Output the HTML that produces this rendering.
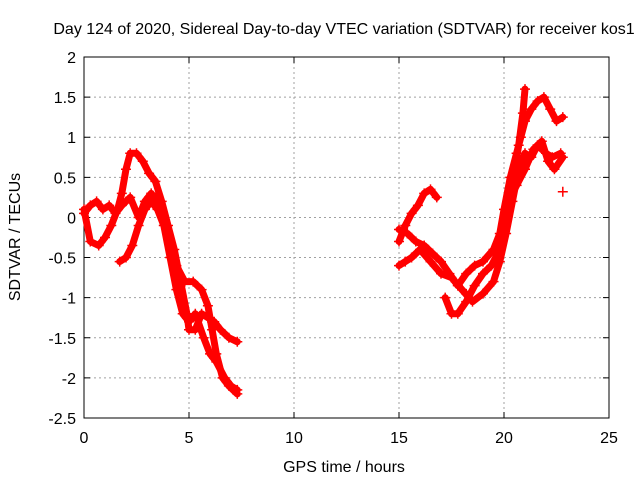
<!DOCTYPE html>
<html><head><meta charset="utf-8"><style>
body{margin:0;background:#fff}
svg{display:block;font-family:"Liberation Sans",sans-serif;font-size:16px}
</style></head><body>
<svg id="chart" width="640" height="480" viewBox="0 0 640 480" xmlns="http://www.w3.org/2000/svg">
<rect width="640" height="480" fill="#fff"/>
<g id="grid"></g>
<g id="axes"></g>
<g id="series"></g>
<text x="344" y="34" text-anchor="middle">Day 124 of 2020, Sidereal Day-to-day VTEC variation (SDTVAR) for receiver kos1</text>
<text x="344" y="472" text-anchor="middle">GPS time / hours</text>
<text transform="translate(20,237) rotate(-90)" text-anchor="middle">SDTVAR / TECUs</text>
</svg>
<script>
const xTicks=[0,5,10,15,20,25];
const yTicks=[2,1.5,1,0.5,0,-0.5,-1,-1.5,-2,-2.5];
const yTickLabels=["2","1.5","1","0.5","0","-0.5","-1","-1.5","-2","-2.5"];
const track1=[[0,0.1],[0.3,-0.3],[0.7,-0.35],[1.0,-0.25],[1.3,-0.1],[1.6,0.1],[1.8,0.3],[2.0,0.6],[2.2,0.8],[2.5,0.8],[2.8,0.7],[3.1,0.55],[3.4,0.45],[3.7,0.2],[4.0,-0.1],[4.3,-0.4],[4.6,-0.8],[4.9,-1.2],[5.0,-1.4],[5.3,-1.4],[5.6,-1.2],[5.9,-1.25],[6.2,-1.3],[6.5,-1.4],[6.9,-1.5],[7.3,-1.55]];
const track2=[[0,0.05],[0.3,0.15],[0.6,0.2],[0.9,0.1],[1.2,0.15],[1.5,0.05],[1.8,0.15],[2.2,0.25],[2.6,0.0],[2.9,0.2],[3.2,0.3],[3.5,0.2],[3.8,0.0],[4.1,-0.3],[4.4,-0.6],[4.8,-0.8],[5.2,-0.8],[5.6,-0.9],[5.9,-1.1],[6.1,-1.4],[6.3,-1.7],[6.6,-2.0],[6.9,-2.1],[7.3,-2.2]];
const track3=[[1.7,-0.55],[2.0,-0.5],[2.3,-0.35],[2.6,-0.1],[2.9,0.1],[3.2,0.2],[3.5,0.1],[3.8,-0.1],[4.1,-0.5],[4.4,-0.9],[4.7,-1.2],[5.0,-1.3],[5.3,-1.2],[5.7,-1.5],[6.0,-1.7],[6.3,-1.8],[6.7,-2.0],[7.0,-2.1],[7.3,-2.15]];
const track4=[[15,-0.3],[15.3,-0.1],[15.6,0.05],[15.9,0.15],[16.2,0.3],[16.5,0.35],[16.8,0.25]];
const track5=[[15,-0.6],[15.3,-0.55],[15.6,-0.5],[16,-0.4],[16.5,-0.55],[17,-0.7],[17.5,-0.75],[18,-0.9],[18.5,-1.05],[19,-0.95],[19.5,-0.8],[19.8,-0.55],[20.1,-0.2],[20.4,0.2],[20.7,0.6],[21.0,0.8],[21.3,0.75],[21.6,0.9],[22.0,0.8],[22.3,0.75],[22.7,0.8]];
const track6=[[15,-0.15],[15.4,-0.2],[15.8,-0.3],[16.2,-0.35],[16.6,-0.45],[17.0,-0.55],[17.4,-0.7],[17.8,-0.85],[18.2,-0.7],[18.6,-0.6],[19.0,-0.55],[19.5,-0.4],[19.8,-0.2],[20.0,0.1],[20.3,0.5],[20.6,0.8],[20.8,1.0],[21.0,1.2],[21.3,1.35],[21.6,1.45],[21.9,1.5],[22.2,1.35],[22.5,1.2],[22.8,1.25]];
const track7=[[17.2,-1.0],[17.5,-1.2],[17.8,-1.2],[18.2,-1.05],[18.6,-0.85],[19.0,-0.7],[19.4,-0.6],[19.8,-0.4],[20.1,0.0],[20.4,0.4],[20.7,0.9],[20.9,1.3],[21.0,1.6]];
const track8=[[20.2,0.2],[20.6,0.4],[21.0,0.6],[21.4,0.85],[21.8,0.95],[22.1,0.7],[22.4,0.6],[22.8,0.75]];
const track9=[[22.8,0.32]];
const tracks=[track1,track2,track3,track4,track5,track6,track7,track8,track9];

const L=84,R=609,T=57,B=418;
const xs=v=>L+(v-0)/25*(R-L);
const ys=v=>B-(v+2.5)/4.5*(B-T);
const NS="http://www.w3.org/2000/svg";
function mk(tag,attrs,parent){const e=document.createElementNS(NS,tag);for(const k in attrs)e.setAttribute(k,attrs[k]);parent.appendChild(e);return e;}
const grid=document.getElementById('grid'),axes=document.getElementById('axes'),ser=document.getElementById('series');
xTicks.forEach(t=>{
  const x=xs(t);
  if(t>0&&t<25){const g=mk('line',{x1:x,x2:x,y1:T,y2:B,stroke:'#a0a0a0','stroke-dasharray':'2,3','stroke-width':1},grid);
  
  }
  const tk=mk('path',{d:`M${x},${B}v-6M${x},${T}v6`,stroke:'#000'},axes);
  
  
  const tl=mk('text',{x:x,y:B+25,'text-anchor':'middle'},axes);tl.textContent=t;
  
  
});
yTicks.forEach((t,i)=>{
  const y=ys(t);
  if(t>-2.5&&t<2){const g=mk('line',{x1:L,x2:R,y1:y,y2:y,stroke:'#a0a0a0','stroke-dasharray':'2,3','stroke-width':1},grid);
  
  }
  const tk=mk('path',{d:`M${L},${y}h6M${R},${y}h-6`,stroke:'#000'},axes);
  
  
  const tl=mk('text',{x:L-8,y:y+6,'text-anchor':'end'},axes);tl.textContent=yTickLabels[i];
  
  
});
const frame=mk('rect',{x:L,y:T,width:R-L,height:B-T,fill:'none',stroke:'#000'},axes);


tracks.forEach((tr,i)=>{
  const g=mk('g',{},ser);
  
  
  if(tr.length>1){
    mk('polyline',{points:tr.map(p=>xs(p[0])+','+ys(p[1])).join(' '),fill:'none',stroke:'#f00','stroke-width':7,'stroke-linejoin':'round','stroke-linecap':'round'},g);
  }
  tr.forEach(p=>{
    const x=xs(p[0]),y=ys(p[1]);
    const m=mk('path',{d:`M${x-5},${y}h10M${x},${y-5}v10`,stroke:'#f00','stroke-width':1.5},g);
    
    
  });
});
</script>
</body></html>
